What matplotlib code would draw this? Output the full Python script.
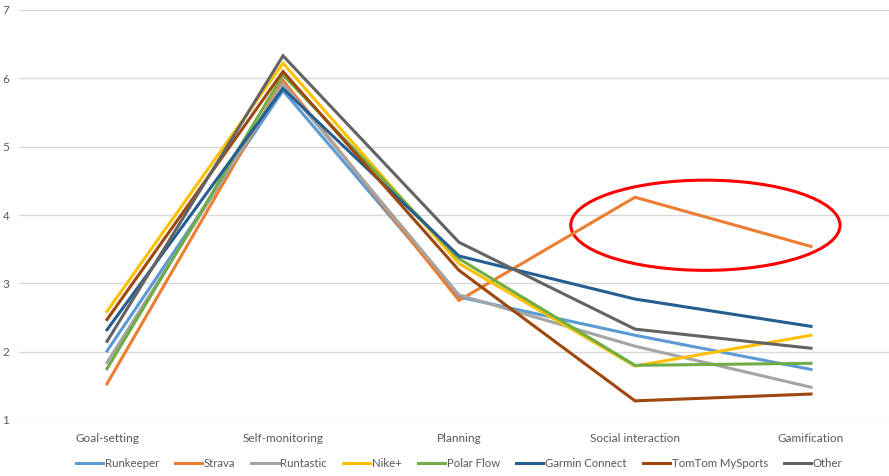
import matplotlib
matplotlib.use("Agg")
import matplotlib.pyplot as plt
from matplotlib.patches import Ellipse

categories = ["Goal-setting", "Self-monitoring", "Planning", "Social interaction", "Gamification"]

runkeeper = [2.01, 5.82, 2.80, 2.24, 1.74]
strava = [1.53, 5.97, 2.75, 4.26, 3.54]
runtastic = [1.84, 5.92, 2.83, 2.08, 1.48]
nike = [2.59, 6.22, 3.29, 1.79, 2.24]
polar = [1.75, 6.05, 3.36, 1.80, 1.83]
garmin = [2.32, 5.85, 3.40, 2.77, 2.37]
tomtom = [2.47, 6.10, 3.19, 1.28, 1.38]
other = [2.15, 6.33, 3.60, 2.33, 2.05]

series_names = ["Runkeeper", "Strava", "Runtastic", "Nike+", "Polar Flow",
                "Garmin Connect", "TomTom MySports", "Other"]
series_values = [runkeeper, strava, runtastic, nike, polar, garmin, tomtom, other]
colors = ["#5B9BD5", "#ED7D31", "#A5A5A5", "#FFC000", "#70AD47",
          "#255E91", "#9E480E", "#636363"]

plt.rcParams["font.family"] = ["Lato", "DejaVu Sans"]

fig = plt.figure(figsize=(8.89, 4.76), dpi=100)
ax = fig.add_axes([19 / 889, 56 / 476, 880 / 889, 410 / 476])

x = list(range(len(categories)))
for name, vals, c in zip(series_names, series_values, colors):
    ax.plot(x, vals, color=c, lw=2.2, label=name, solid_joinstyle="miter")

# highlight Strava's social interaction / gamification values
ax.add_patch(Ellipse((3.4, 3.85), 1.53, 1.32, fill=False, edgecolor="#FF0000", lw=2.2))

ax.set_xlim(-0.5, 4.5)
ax.set_ylim(1, 7)
ax.set_yticks(range(1, 8))
ax.set_xticks(x)
ax.set_xticklabels(categories)
ax.grid(axis="y", color="#D9D9D9", lw=1)
ax.set_axisbelow(True)
for s in ax.spines.values():
    s.set_visible(False)
ax.tick_params(axis="both", length=0, labelsize=8.5, colors="#595959")
ax.tick_params(axis="y", pad=7)
ax.tick_params(axis="x", pad=9)

ax.legend(loc="upper center", bbox_to_anchor=(0.5, -0.068), ncol=8, frameon=False,
          fontsize=8.2, handlelength=2.4, handletextpad=0.15, columnspacing=1.4,
          labelcolor="#595959")

fig.savefig("out.png", dpi=100)
